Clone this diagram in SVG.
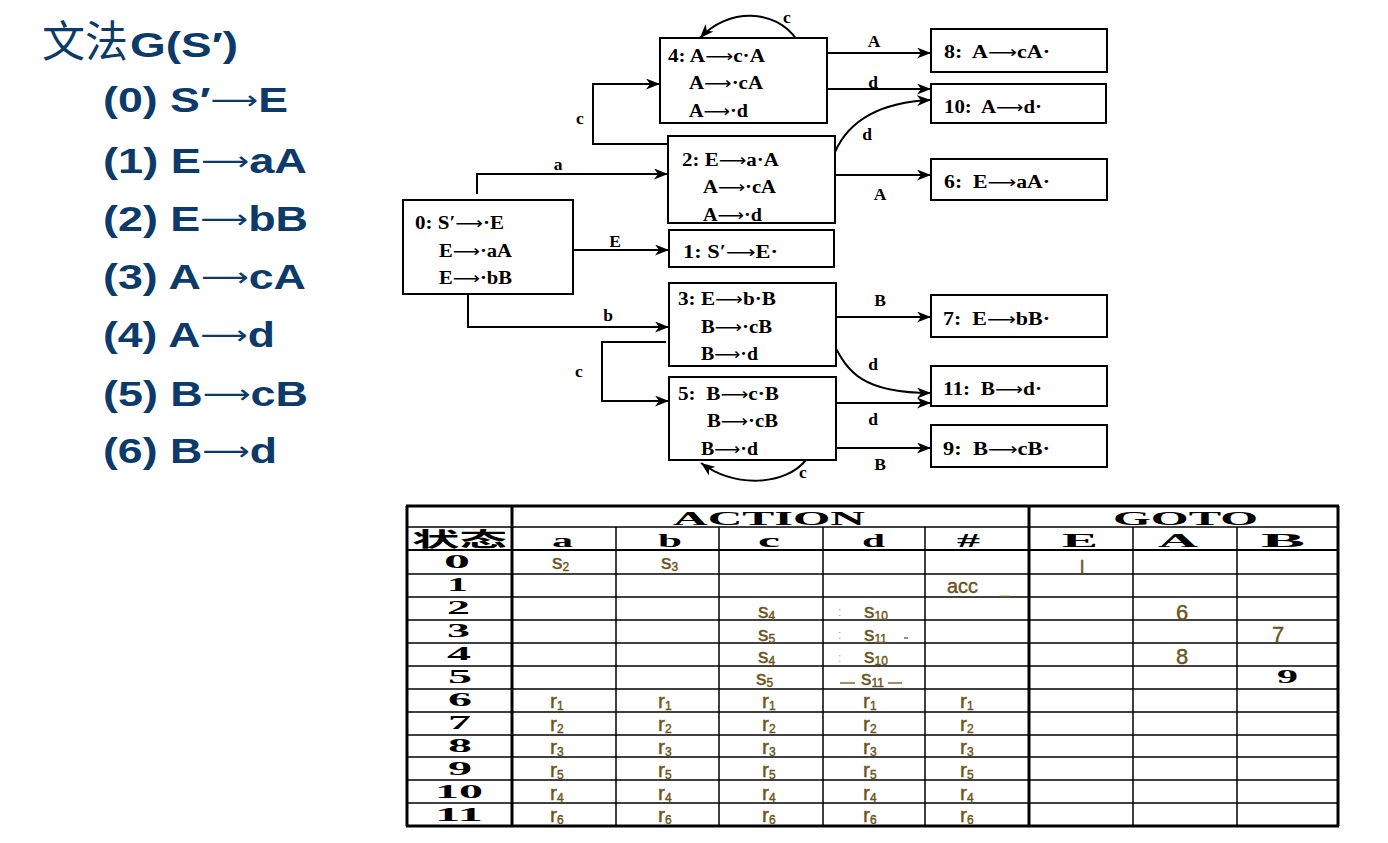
<svg xmlns="http://www.w3.org/2000/svg" width="1388" height="843" viewBox="0 0 1388 843">
<style>
  .gram { font-family: "Liberation Sans", Arial, "Noto Sans CJK SC", sans-serif; font-weight: bold; font-size: 35px; fill: #0c3a6a; }
  .cjk { font-family: "Noto Sans CJK SC", sans-serif; font-weight: normal; font-size: 43px; }
  .gar { font-family: "DejaVu Sans", sans-serif; font-weight: normal; font-size: 26px; }
  .ar { font-family: "DejaVu Sans", sans-serif; font-weight: normal; font-size: 17px; }
  .box { fill: #fff; stroke: #000; stroke-width: 2; }
  .it { font-family: "Liberation Serif", "Times New Roman", serif; font-weight: bold; font-size: 18.5px; fill: #000; }
  .lb { font-family: "Liberation Serif", "Times New Roman", serif; font-weight: bold; font-size: 17.5px; fill: #000; text-anchor: middle; }
  .edge { fill: none; stroke: #000; stroke-width: 2; marker-end: url(#ah); }
  .wide { font-family: "Liberation Serif", "Times New Roman", serif; font-weight: bold; font-size: 18px; fill: #000; }
  .hw { font-family: "Liberation Sans", Arial, sans-serif; font-size: 21px; fill: #6b5417; stroke: #6b5417; stroke-width: 0.4; }
  .sub { font-size: 12px; }
  .thin { stroke: #000; stroke-width: 1.5; }
  .mid { stroke: #000; stroke-width: 2; }
  .thick { stroke: #000; stroke-width: 3; }
</style>
<defs>
  <marker id="ah" markerUnits="userSpaceOnUse" markerWidth="15" markerHeight="11" refX="14" refY="5.5" orient="auto">
    <path d="M0,0 L14,5.5 L0,11 L4,5.5 Z" fill="#000"/>
  </marker>
</defs>
<rect width="1388" height="843" fill="#fff"/>

<!-- grammar -->
<g id="grammar" class="gram">
  <text x="42" y="57"><tspan class="cjk">文法</tspan><tspan x="130" textLength="108" lengthAdjust="spacingAndGlyphs">G(S′)</tspan></text>
  <text x="103" y="112" textLength="185" lengthAdjust="spacingAndGlyphs">(0) S′<tspan class="gar" dy="-3">⟶</tspan><tspan dy="3">E</tspan></text>
  <text x="103" y="173" textLength="204" lengthAdjust="spacingAndGlyphs">(1) E<tspan class="gar" dy="-3">⟶</tspan><tspan dy="3">aA</tspan></text>
  <text x="103" y="231" textLength="205" lengthAdjust="spacingAndGlyphs">(2) E<tspan class="gar" dy="-3">⟶</tspan><tspan dy="3">bB</tspan></text>
  <text x="103" y="289" textLength="203" lengthAdjust="spacingAndGlyphs">(3) A<tspan class="gar" dy="-3">⟶</tspan><tspan dy="3">cA</tspan></text>
  <text x="103" y="347" textLength="172" lengthAdjust="spacingAndGlyphs">(4) A<tspan class="gar" dy="-3">⟶</tspan><tspan dy="3">d</tspan></text>
  <text x="103" y="406" textLength="205" lengthAdjust="spacingAndGlyphs">(5) B<tspan class="gar" dy="-3">⟶</tspan><tspan dy="3">cB</tspan></text>
  <text x="103" y="463" textLength="174" lengthAdjust="spacingAndGlyphs">(6) B<tspan class="gar" dy="-3">⟶</tspan><tspan dy="3">d</tspan></text>
</g>

<!-- connectors -->
<g id="edges">
  <path class="edge" d="M827,53 H931"/>
  <path class="edge" d="M827,89 H931"/>
  <path class="edge" d="M835,152 C850,118 885,102 931,100"/>
  <path class="edge" d="M835,175 H931"/>
  <path class="edge" d="M573,250 H669"/>
  <path class="edge" d="M477,194 V174 H668"/>
  <path class="edge" d="M668,144 H593 V84 H660"/>
  <path class="edge" d="M797,40 C775,8 728,8 700,38"/>
  <path class="edge" d="M468,295 V327 H669"/>
  <path class="edge" d="M666,342 H602 V401 H669"/>
  <path class="edge" d="M806,460 C785,486 735,488 701,463"/>
  <path class="edge" d="M836,317 H931"/>
  <path class="edge" d="M833,343 C848,372 862,393 931,393"/>
  <path class="edge" d="M836,403 H931"/>
  <path class="edge" d="M836,448 H931"/>
  <text class="lb" x="874" y="47">A</text>
  <text class="lb" x="873" y="88">d</text>
  <text class="lb" x="867" y="140">d</text>
  <text class="lb" x="880" y="200">A</text>
  <text class="lb" x="615" y="247">E</text>
  <text class="lb" x="558" y="170">a</text>
  <text class="lb" x="580" y="124">c</text>
  <text class="lb" x="787" y="23">c</text>
  <text class="lb" x="608" y="321">b</text>
  <text class="lb" x="579" y="377">c</text>
  <text class="lb" x="803" y="478">c</text>
  <text class="lb" x="880" y="306">B</text>
  <text class="lb" x="873" y="370">d</text>
  <text class="lb" x="873" y="425">d</text>
  <text class="lb" x="880" y="470">B</text>
</g>

<!-- item sets -->
<g id="I0"><rect class="box" x="403" y="200" width="170" height="94"/>
  <text class="it" x="415" y="229" textLength="89" lengthAdjust="spacingAndGlyphs">0: S′<tspan class="ar">⟶</tspan>·E</text>
  <text class="it" x="439" y="257" textLength="73" lengthAdjust="spacingAndGlyphs">E<tspan class="ar">⟶</tspan>·aA</text>
  <text class="it" x="439" y="284" textLength="73" lengthAdjust="spacingAndGlyphs">E<tspan class="ar">⟶</tspan>·bB</text></g>
<g id="I1"><rect class="box" x="669" y="230" width="165" height="37"/>
  <text class="it" x="683" y="258" textLength="95" lengthAdjust="spacingAndGlyphs">1: S′<tspan class="ar">⟶</tspan>E·</text></g>
<g id="I2"><rect class="box" x="668" y="136" width="167" height="87"/>
  <text class="it" x="682" y="166" textLength="97" lengthAdjust="spacingAndGlyphs">2: E<tspan class="ar">⟶</tspan>a·A</text>
  <text class="it" x="703" y="193" textLength="73" lengthAdjust="spacingAndGlyphs">A<tspan class="ar">⟶</tspan>·cA</text>
  <text class="it" x="703" y="221" textLength="59" lengthAdjust="spacingAndGlyphs">A<tspan class="ar">⟶</tspan>·d</text></g>
<g id="I3"><rect class="box" x="669" y="283" width="167" height="83"/>
  <text class="it" x="678" y="305" textLength="98" lengthAdjust="spacingAndGlyphs">3: E<tspan class="ar">⟶</tspan>b·B</text>
  <text class="it" x="701" y="333" textLength="71" lengthAdjust="spacingAndGlyphs">B<tspan class="ar">⟶</tspan>·cB</text>
  <text class="it" x="701" y="360" textLength="57" lengthAdjust="spacingAndGlyphs">B<tspan class="ar">⟶</tspan>·d</text></g>
<g id="I4"><rect class="box" x="660" y="38" width="167" height="85"/>
  <text class="it" x="668" y="62" textLength="97" lengthAdjust="spacingAndGlyphs">4: A<tspan class="ar">⟶</tspan>c·A</text>
  <text class="it" x="689" y="89" textLength="74" lengthAdjust="spacingAndGlyphs">A<tspan class="ar">⟶</tspan>·cA</text>
  <text class="it" x="689" y="117" textLength="59" lengthAdjust="spacingAndGlyphs">A<tspan class="ar">⟶</tspan>·d</text></g>
<g id="I5"><rect class="box" x="669" y="377" width="167" height="83"/>
  <text class="it" x="678" y="400" textLength="101" lengthAdjust="spacingAndGlyphs">5:&#160; B<tspan class="ar">⟶</tspan>c·B</text>
  <text class="it" x="707" y="427" textLength="71" lengthAdjust="spacingAndGlyphs">B<tspan class="ar">⟶</tspan>·cB</text>
  <text class="it" x="701" y="455" textLength="57" lengthAdjust="spacingAndGlyphs">B<tspan class="ar">⟶</tspan>·d</text></g>
<g id="I6"><rect class="box" x="931" y="159" width="176" height="41"/>
  <text class="it" x="944" y="188" textLength="106" lengthAdjust="spacingAndGlyphs">6:&#160; E<tspan class="ar">⟶</tspan>aA·</text></g>
<g id="I7"><rect class="box" x="931" y="295" width="176" height="42"/>
  <text class="it" x="943" y="325" textLength="107" lengthAdjust="spacingAndGlyphs">7:&#160; E<tspan class="ar">⟶</tspan>bB·</text></g>
<g id="I8"><rect class="box" x="931" y="29" width="176" height="43"/>
  <text class="it" x="944" y="58" textLength="106" lengthAdjust="spacingAndGlyphs">8:&#160; A<tspan class="ar">⟶</tspan>cA·</text></g>
<g id="I9"><rect class="box" x="931" y="425" width="176" height="42"/>
  <text class="it" x="943" y="455" textLength="107" lengthAdjust="spacingAndGlyphs">9:&#160; B<tspan class="ar">⟶</tspan>cB·</text></g>
<g id="I10"><rect class="box" x="931" y="84" width="175" height="39"/>
  <text class="it" x="944" y="113" textLength="98" lengthAdjust="spacingAndGlyphs">10:&#160; A<tspan class="ar">⟶</tspan>d·</text></g>
<g id="I11"><rect class="box" x="931" y="366" width="176" height="40"/>
  <text class="it" x="943" y="395" textLength="99" lengthAdjust="spacingAndGlyphs">11:&#160; B<tspan class="ar">⟶</tspan>d·</text></g>

<!-- LR parsing table -->
<g id="table">
  <g class="thin">
    <line x1="407" y1="527" x2="1338" y2="527"/>
    <line x1="407" y1="574" x2="1338" y2="574"/>
    <line x1="407" y1="597" x2="1338" y2="597"/>
    <line x1="407" y1="620" x2="1338" y2="620"/>
    <line x1="407" y1="643" x2="1338" y2="643"/>
    <line x1="407" y1="666" x2="1338" y2="666"/>
    <line x1="407" y1="689" x2="1338" y2="689"/>
    <line x1="407" y1="712" x2="1338" y2="712"/>
    <line x1="407" y1="735" x2="1338" y2="735"/>
    <line x1="407" y1="757" x2="1338" y2="757"/>
    <line x1="407" y1="780" x2="1338" y2="780"/>
    <line x1="407" y1="803" x2="1338" y2="803"/>
    <line x1="616" y1="527" x2="616" y2="826"/>
    <line x1="719" y1="527" x2="719" y2="826"/>
    <line x1="823" y1="527" x2="823" y2="826"/>
    <line x1="925" y1="527" x2="925" y2="826"/>
    <line x1="1133" y1="527" x2="1133" y2="826"/>
    <line x1="1237" y1="527" x2="1237" y2="826"/>
  </g>
  <line class="mid" x1="407" y1="550" x2="1338" y2="550"/>
  <g class="thick">
    <line x1="406" y1="506" x2="1339" y2="506"/>
    <line x1="406" y1="826" x2="1339" y2="826"/>
    <line x1="407" y1="506" x2="407" y2="826"/>
    <line x1="512" y1="506" x2="512" y2="826"/>
    <line x1="1029" y1="506" x2="1029" y2="826"/>
    <line x1="1338" y1="506" x2="1338" y2="826"/>
  </g>
  <text class="wide" x="673" y="525" textLength="192" lengthAdjust="spacingAndGlyphs">ACTION</text>
  <text class="wide" x="1113" y="525" textLength="145" lengthAdjust="spacingAndGlyphs">GOTO</text>
  <text x="412" y="547" font-family="'Noto Sans CJK SC', sans-serif" font-weight="bold" font-size="20" textLength="95" lengthAdjust="spacingAndGlyphs">状态</text>
  <g class="wide">
    <text x="552" y="547" textLength="21" lengthAdjust="spacingAndGlyphs">a</text>
    <text x="658" y="547" textLength="24" lengthAdjust="spacingAndGlyphs">b</text>
    <text x="758" y="547" textLength="22" lengthAdjust="spacingAndGlyphs">c</text>
    <text x="862" y="547" textLength="23" lengthAdjust="spacingAndGlyphs">d</text>
    <text x="957" y="547" textLength="23" lengthAdjust="spacingAndGlyphs">#</text>
    <text x="1062" y="547" textLength="36" lengthAdjust="spacingAndGlyphs">E</text>
    <text x="1158" y="547" textLength="40" lengthAdjust="spacingAndGlyphs">A</text>
    <text x="1261" y="547" textLength="44" lengthAdjust="spacingAndGlyphs">B</text>
    <text x="444" y="568" textLength="26" lengthAdjust="spacingAndGlyphs">0</text>
    <text x="447" y="591" textLength="21" lengthAdjust="spacingAndGlyphs">1</text>
    <text x="447" y="614" textLength="23" lengthAdjust="spacingAndGlyphs">2</text>
    <text x="447" y="637" textLength="23" lengthAdjust="spacingAndGlyphs">3</text>
    <text x="447" y="660" textLength="24" lengthAdjust="spacingAndGlyphs">4</text>
    <text x="448" y="683" textLength="24" lengthAdjust="spacingAndGlyphs">5</text>
    <text x="448" y="706" textLength="24" lengthAdjust="spacingAndGlyphs">6</text>
    <text x="448" y="729" textLength="23" lengthAdjust="spacingAndGlyphs">7</text>
    <text x="448" y="752" textLength="24" lengthAdjust="spacingAndGlyphs">8</text>
    <text x="448" y="775" textLength="24" lengthAdjust="spacingAndGlyphs">9</text>
    <text x="435" y="798" textLength="48" lengthAdjust="spacingAndGlyphs">10</text>
    <text x="435" y="821" textLength="48" lengthAdjust="spacingAndGlyphs">11</text>
    <text x="1277" y="683" textLength="21" lengthAdjust="spacingAndGlyphs">9</text>
  </g>

  <!-- hand-written entries -->
  <g class="hw">
    <text x="552" y="569">s<tspan class="sub" dy="2">2</tspan></text>
    <text x="661" y="569">s<tspan class="sub" dy="2">3</tspan></text>
    <text x="1080" y="573" font-size="19">l</text>
    <text x="947" y="593" font-size="20">acc</text>
    <text x="1000" y="593" font-size="18">_</text>
    <text x="758" y="618">s<tspan class="sub" dy="2">4</tspan></text>
    <text x="758" y="641">s<tspan class="sub" dy="2">5</tspan></text>
    <text x="758" y="663">s<tspan class="sub" dy="2">4</tspan></text>
    <text x="756" y="685">s<tspan class="sub" dy="2">5</tspan></text>
    <text x="864" y="618">s<tspan class="sub" dy="2">10</tspan></text>
    <text x="864" y="641">s<tspan class="sub" dy="2">11</tspan></text>
    <text x="864" y="663">s<tspan class="sub" dy="2">10</tspan></text>
    <text x="861" y="685">s<tspan class="sub" dy="2">11</tspan></text>
    <text x="1176" y="620" font-size="22">6</text>
    <text x="1272" y="642" font-size="22">7</text>
    <text x="1176" y="664" font-size="22">8</text>
  </g>
  <g fill="#aaa" font-family="'Liberation Sans', sans-serif" font-size="12">
    <text x="838" y="616">:</text>
    <text x="838" y="639">:</text>
    <text x="838" y="662">:</text>
  </g>
  <g stroke="#6b5417" stroke-width="1.3">
    <line x1="904" y1="638" x2="908" y2="638"/>
    <line x1="840" y1="683" x2="855" y2="683"/>
    <line x1="888" y1="683" x2="902" y2="683"/>
  </g>
  <g class="hw">
    <text x="550" y="708">r<tspan class="sub" dy="2">1</tspan></text>
    <text x="658" y="708">r<tspan class="sub" dy="2">1</tspan></text>
    <text x="762" y="708">r<tspan class="sub" dy="2">1</tspan></text>
    <text x="863" y="708">r<tspan class="sub" dy="2">1</tspan></text>
    <text x="960" y="708">r<tspan class="sub" dy="2">1</tspan></text>
    <text x="550" y="731">r<tspan class="sub" dy="2">2</tspan></text>
    <text x="658" y="731">r<tspan class="sub" dy="2">2</tspan></text>
    <text x="762" y="731">r<tspan class="sub" dy="2">2</tspan></text>
    <text x="863" y="731">r<tspan class="sub" dy="2">2</tspan></text>
    <text x="960" y="731">r<tspan class="sub" dy="2">2</tspan></text>
    <text x="550" y="754">r<tspan class="sub" dy="2">3</tspan></text>
    <text x="658" y="754">r<tspan class="sub" dy="2">3</tspan></text>
    <text x="762" y="754">r<tspan class="sub" dy="2">3</tspan></text>
    <text x="863" y="754">r<tspan class="sub" dy="2">3</tspan></text>
    <text x="960" y="754">r<tspan class="sub" dy="2">3</tspan></text>
    <text x="550" y="777">r<tspan class="sub" dy="2">5</tspan></text>
    <text x="658" y="777">r<tspan class="sub" dy="2">5</tspan></text>
    <text x="762" y="777">r<tspan class="sub" dy="2">5</tspan></text>
    <text x="863" y="777">r<tspan class="sub" dy="2">5</tspan></text>
    <text x="960" y="777">r<tspan class="sub" dy="2">5</tspan></text>
    <text x="550" y="800">r<tspan class="sub" dy="2">4</tspan></text>
    <text x="658" y="800">r<tspan class="sub" dy="2">4</tspan></text>
    <text x="762" y="800">r<tspan class="sub" dy="2">4</tspan></text>
    <text x="863" y="800">r<tspan class="sub" dy="2">4</tspan></text>
    <text x="960" y="800">r<tspan class="sub" dy="2">4</tspan></text>
    <text x="550" y="822">r<tspan class="sub" dy="2">6</tspan></text>
    <text x="658" y="822">r<tspan class="sub" dy="2">6</tspan></text>
    <text x="762" y="822">r<tspan class="sub" dy="2">6</tspan></text>
    <text x="863" y="822">r<tspan class="sub" dy="2">6</tspan></text>
    <text x="960" y="822">r<tspan class="sub" dy="2">6</tspan></text>
  </g>
</g>
</svg>
